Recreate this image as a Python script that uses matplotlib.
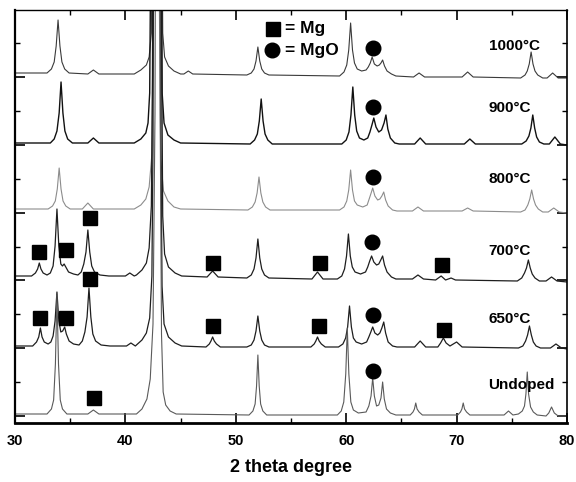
import numpy as np
import matplotlib
matplotlib.use("Agg")
import matplotlib.pyplot as plt
from matplotlib.ticker import MultipleLocator, FixedLocator, NullFormatter

plt.rcParams['font.family'] = ['Liberation Sans', 'DejaVu Sans']

# ---------------- data (2theta, intensity above trace baseline) ----------------
trace_1000 = [(30,0),
    (32.9,0),(33.3,4),(33.55,11),(33.73,27),(33.9,53),(34.07,27),(34.25,11),(34.5,4),(34.9,0),
    (36.6,-1),(37.1,3),(37.6,-1),
    (40.8,-1),(41.4,3),(41.9,8),(42.15,16),(42.35,40),(42.45,200),(42.6,900),(43.1,900),(43.3,200),
    (43.38,40),(43.55,16),(43.9,7),(44.4,2),(45.0,-1),
    (45.3,-1),(45.7,2),(46.1,-1),
    (51.0,-2),(51.4,0),(51.65,4),(51.83,12),(52.0,26),(52.17,12),(52.35,4),(52.6,0),(53.0,-2),
    (59.4,-3),(59.8,1),(60.05,8),(60.23,23),(60.4,50),(60.57,23),(60.75,10),(61.0,4),(61.4,2),
    (61.8,3),(62.0,6),(62.18,10),(62.35,16),(62.55,9),(62.8,7),(63.0,8),(63.15,10),(63.3,13),
    (63.47,7),(63.7,2),(64.1,-1),(64.5,-3),
    (66.1,-4),(66.6,0),(67.1,-4),
    (70.5,-4),(71.0,1),(71.5,-4),
    (75.8,-5),(76.2,-2),(76.4,2),(76.58,9),(76.75,21),(76.92,9),(77.1,2),(77.35,-2),(77.8,-5),
    (78.2,-5),(78.7,0),(79.2,-5),(80,-5)]

trace_900 = [(30,0),
    (33.2,0),(33.55,4),(33.8,12),(34.0,30),(34.17,61),(34.34,30),(34.52,12),(34.77,4),(35.2,0),
    (36.6,0),(37.1,5),(37.6,0),
    (40.8,0),(41.4,4),(41.85,10),(42.05,20),(42.2,50),(42.3,200),(42.45,900),(43.05,900),(43.25,200),
    (43.33,50),(43.5,20),(43.85,8),(44.4,3),(45.0,0),
    (51.3,-1),(51.7,3),(51.95,9),(52.13,22),(52.3,44),(52.47,22),(52.65,9),(52.9,3),(53.3,-1),
    (59.6,-1),(60.0,3),(60.25,11),(60.43,28),(60.6,56),(60.77,28),(60.95,12),(61.2,5),(61.6,3),
    (61.95,5),(62.15,11),(62.33,18),(62.5,25),(62.7,16),(62.95,11),(63.2,13),(63.43,20),(63.6,28),
    (63.77,14),(64.0,5),(64.4,0),(64.8,-1),
    (66.2,-1),(66.7,5),(67.2,-1),
    (70.7,-1),(71.2,4),(71.7,-1),
    (75.9,-1),(76.3,2),(76.55,7),(76.73,15),(76.9,28),(77.07,15),(77.25,6),(77.5,1),(77.9,-1),
    (78.4,-1),(78.9,6),(79.4,-1),(80,-2)]

trace_800 = [(30,0),
    (33.0,0),(33.4,3),(33.65,8),(33.83,20),(34.0,41),(34.17,20),(34.35,8),(34.6,3),(35.0,0),
    (36.1,0),(36.6,6),(37.1,0),
    (40.8,0),(41.4,4),(41.85,10),(42.15,22),(42.4,55),(42.55,200),(42.7,900),(42.95,900),(43.08,200),
    (43.2,50),(43.45,18),(43.85,8),(44.4,2),(45.0,0),
    (51.1,-1),(51.5,2),(51.75,7),(51.93,16),(52.1,32),(52.27,16),(52.45,7),(52.7,2),(53.1,-1),
    (59.4,-1),(59.8,2),(60.05,8),(60.23,19),(60.4,39),(60.57,19),(60.75,8),(61.0,4),(61.5,2),
    (61.9,4),(62.05,9),(62.23,15),(62.4,21),(62.6,13),(62.85,9),(63.05,10),(63.23,13),(63.4,17),
    (63.57,9),(63.8,3),(64.2,-1),(64.6,-2),
    (66.0,-2),(66.5,2),(67.0,-2),
    (70.5,-2),(71.0,1),(71.5,-2),
    (75.8,-3),(76.2,-1),(76.45,4),(76.63,10),(76.8,19),(76.97,10),(77.15,4),(77.4,0),(77.8,-3),
    (78.3,-3),(78.8,1),(79.3,-3),(80,-4)]

trace_700 = [(30,0),
    (31.5,0),(31.85,3),(32.05,7),(32.2,13),(32.35,7),(32.55,3),(32.9,1),
    (33.2,3),(33.45,10),(33.63,30),(33.8,67),(33.97,30),(34.15,12),(34.3,10),(34.45,12),(34.6,9),
    (34.85,4),(35.3,2),
    (35.7,1),(36.0,4),(36.23,12),(36.43,24),(36.6,46),(36.77,24),(36.95,10),(37.2,4),(37.7,1),(38.5,0),
    (40.0,0),(40.4,3),(40.8,0),
    (41.0,1),(41.5,6),(41.9,13),(42.15,28),(42.35,70),(42.45,200),(42.6,900),(43.15,900),(43.3,200),
    (43.38,60),(43.55,22),(43.9,9),(44.5,3),(45.1,0),
    (47.4,-1),(47.9,5),(48.4,-1),
    (51.0,-2),(51.4,1),(51.65,7),(51.83,18),(52.0,37),(52.17,18),(52.35,7),(52.6,1),(53.0,-2),
    (56.9,-3),(57.4,4),(57.9,-3),
    (59.2,-3),(59.6,0),(59.85,7),(60.03,20),(60.2,42),(60.37,20),(60.55,9),(60.8,4),(61.3,2),
    (61.75,4),(61.95,9),(62.13,15),(62.3,20),(62.5,14),(62.75,11),(62.95,12),(63.13,16),(63.3,20),
    (63.47,11),(63.7,4),(64.1,-1),(64.5,-3),
    (66.0,-3),(66.5,1),(67.0,-3),
    (68.1,-4),(68.6,0),(69.0,-4),(69.5,-2),(69.9,-4),
    (75.5,-5),(75.9,-2),(76.15,3),(76.33,8),(76.5,16),(76.67,8),(76.85,2),(77.1,-2),(77.5,-5),
    (78.1,-5),(78.6,-1),(79.1,-5),(80,-6)]

trace_650 = [(30,0),
    (31.6,0),(31.95,4),(32.15,9),(32.3,18),(32.45,9),(32.65,4),(33.0,2),
    (33.25,4),(33.45,10),(33.63,25),(33.8,54),(33.97,25),(34.15,14),(34.32,15),(34.5,19),(34.65,12),
    (34.9,5),(35.3,2),
    (35.8,1),(36.1,5),(36.33,14),(36.53,29),(36.7,58),(36.87,29),(37.05,12),(37.3,5),(37.8,1),(38.6,0),
    (40.1,0),(40.5,3),(40.9,0),
    (41.0,1),(41.5,6),(41.9,13),(42.2,28),(42.4,70),(42.5,200),(42.65,900),(43.1,900),(43.22,200),
    (43.32,60),(43.5,22),(43.9,9),(44.5,3),(45.1,0),
    (47.3,-1),(47.6,2),(47.75,5),(47.9,9),(48.05,5),(48.25,2),(48.6,-1),
    (51.0,-1),(51.4,1),(51.65,6),(51.83,15),(52.0,30),(52.17,15),(52.35,6),(52.6,1),(53.0,-1),
    (56.8,-1),(57.1,2),(57.25,5),(57.4,9),(57.55,5),(57.75,2),(58.1,-1),
    (59.3,-1),(59.7,2),(59.95,8),(60.13,19),(60.3,40),(60.47,19),(60.65,8),(60.9,4),(61.4,2),
    (61.85,4),(62.05,9),(62.23,14),(62.4,19),(62.6,13),(62.85,11),(63.05,13),(63.23,18),(63.4,24),
    (63.57,13),(63.8,4),(64.2,0),(64.6,-1),
    (66.2,-1),(66.7,5),(67.2,-1),
    (68.3,-1),(68.55,3),(68.8,8),(69.05,3),(69.4,0),(70.0,4),(70.5,-1),
    (75.6,-2),(76.0,0),(76.25,5),(76.43,11),(76.6,20),(76.77,11),(76.95,4),(77.2,0),(77.6,-2),
    (78.5,-2),(79.0,2),(79.5,-2),(80,-3)]

trace_undoped = [(30,0),
    (32.9,0),(33.3,5),(33.5,14),(33.66,50),(33.8,119),(33.94,50),(34.1,14),(34.3,5),(34.7,0),
    (36.6,0),(37.1,4),(37.6,0),
    (41.0,0),(41.5,5),(41.95,15),(42.25,35),(42.5,90),(42.68,300),(42.82,900),(43.05,900),(43.15,300),
    (43.27,80),(43.42,22),(43.65,9),(44.05,3),(44.6,0),
    (51.2,-1),(51.55,3),(51.75,10),(51.88,28),(52.0,59),(52.12,28),(52.25,10),(52.45,3),(52.8,-1),
    (59.2,-1),(59.55,3),(59.78,12),(59.96,40),(60.1,86),(60.24,40),(60.42,12),(60.65,4),(61.1,1),
    (61.8,2),(62.05,8),(62.25,18),(62.4,36),(62.55,18),(62.75,8),(62.95,9),(63.15,16),(63.3,32),
    (63.45,15),(63.65,5),(64.0,1),(64.5,-1),
    (65.8,-1),(66.05,2),(66.18,5),(66.3,11),(66.42,5),(66.6,2),(66.9,-1),
    (70.1,-1),(70.35,2),(70.48,5),(70.6,11),(70.72,5),(70.9,2),(71.2,-1),
    (74.3,-1),(74.7,3),(75.1,-1),
    (75.6,0),(75.95,3),(76.15,8),(76.28,20),(76.4,42),(76.52,20),(76.7,7),(76.95,2),(77.3,-1),
    (78.1,-2),(78.35,1),(78.6,7),(78.85,1),(79.2,-2),(80,-2)]

trace_labels = ['1000\u00b0C', '900\u00b0C', '800\u00b0C', '700\u00b0C', '650\u00b0C', 'Undoped']
trace_offsets = [350, 280, 214, 147, 77, 9]
label_y = [377, 315, 244, 172, 104, 38]
traces = [trace_1000, trace_900, trace_800, trace_700, trace_650, trace_undoped]

# Mg markers (squares) and MgO markers (circles)
mg_x = [36.8, 32.2, 34.6, 36.8, 47.9, 57.6, 68.65, 32.3, 34.6, 37.2, 47.9, 57.5, 68.9]
mg_y = [205, 171, 173, 144, 160, 160, 158, 105, 105, 25, 97, 97, 93.5]
mgo_x = [62.4, 62.45, 62.4, 62.35, 62.4, 62.45]
mgo_y = [375.5, 315.7, 246.3, 181, 108, 52]

# ---------------- figure ----------------
colors = ['#3a3a3a', '#111111', '#8c8c8c', '#1e1e1e', '#1e1e1e', '#5a5a5a']
widths = [0.8, 1.0, 0.8, 0.9, 0.9, 0.8]

fig = plt.figure(figsize=(5.76, 4.82), dpi=100)
ax = fig.add_axes([15/576, 1 - 423/482, 552/576, 413/482])

for pts, off, c, lw in zip(traces, trace_offsets, colors, widths):
    arr = np.array(pts, dtype=float)
    ax.plot(arr[:, 0], arr[:, 1] + off, color=c, lw=lw, solid_joinstyle='round')

ax.plot(mg_x, mg_y, 's', ms=9.5, color='black', zorder=5)
ax.plot(mgo_x, mgo_y, 'o', ms=10.5, color='black', zorder=5)

for lab, y in zip(trace_labels, label_y):
    ax.text(72.9, y, lab, fontsize=11, fontweight='bold', ha='left', va='center')

# legend inside plot
ax.plot([53.35], [394], 's', ms=9.5, color='black')
ax.text(54.45, 394, '= Mg', fontsize=12.5, fontweight='bold', ha='left', va='center')
ax.plot([53.3], [373], 'o', ms=10.5, color='black')
ax.text(54.45, 373, '= MgO', fontsize=12.5, fontweight='bold', ha='left', va='center')

ax.set_xlim(30, 80)
ax.set_ylim(0, 413)
ax.xaxis.set_major_locator(MultipleLocator(10))
ax.xaxis.set_minor_locator(MultipleLocator(5))
ax.yaxis.set_major_locator(FixedLocator([7 + 67.8 * k for k in range(6)]))
ax.yaxis.set_minor_locator(FixedLocator([40.9 + 67.8 * k for k in range(6)]))
ax.yaxis.set_major_formatter(NullFormatter())
ax.tick_params(which='both', direction='in', top=True, right=True)
ax.tick_params(which='major', length=7, width=1.2, pad=8)
ax.tick_params(which='minor', length=3.5, width=1.0)
plt.setp(ax.get_xticklabels(), fontsize=10.5, fontweight='bold')
ax.set_xlabel('2 theta degree', fontsize=13, fontweight='bold', labelpad=8)

ax.spines['left'].set_linewidth(1.6)
ax.spines['bottom'].set_linewidth(2.0)
ax.spines['top'].set_linewidth(1.0)
ax.spines['right'].set_linewidth(1.2)

fig.savefig('out.png', dpi=100)
